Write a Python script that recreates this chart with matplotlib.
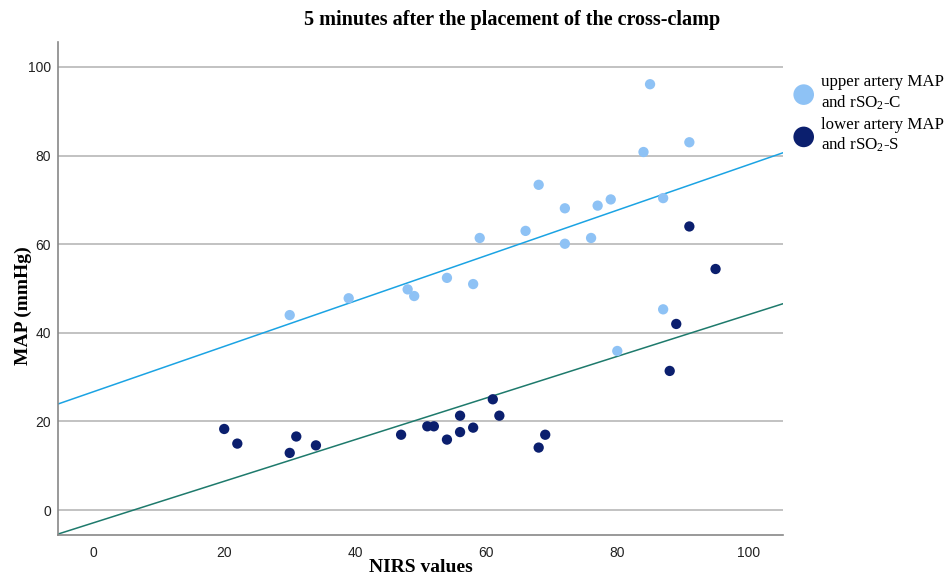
import matplotlib.pyplot as plt
import numpy as np

plt.rcParams['mathtext.fontset'] = 'custom'
plt.rcParams['mathtext.rm'] = 'Liberation Serif'
plt.rcParams['mathtext.default'] = 'rm'

upper_x = [30, 39, 48, 49, 54, 58, 59, 66, 68, 72, 72, 76, 77, 79, 80, 84, 85, 87, 87, 91]
upper_y = [44.0, 47.8, 49.8, 48.3, 52.4, 51.0, 61.4, 63.0, 73.4, 68.1, 60.1, 61.4, 68.7, 70.1,
           35.9, 80.8, 96.1, 70.4, 45.3, 83.0]
lower_x = [20, 22, 30, 31, 34, 47, 51, 52, 54, 56, 56, 58, 61, 62, 68, 69, 88, 89, 91, 95]
lower_y = [18.3, 15.0, 12.9, 16.6, 14.6, 17.0, 18.9, 18.9, 15.9, 21.3, 17.6, 18.6, 25.0, 21.3,
           14.1, 17.0, 31.4, 42.0, 64.0, 54.4]
ticks = [0, 20, 40, 60, 80, 100]

light = '#8ec2f5'
dark = '#0b1f6e'

fig = plt.figure(figsize=(9.53, 5.77), dpi=100)
ax = fig.add_axes([0.061, 0.073, 0.761, 0.854])
xlim = (-5.35, 105.35)
ax.set_xlim(xlim)
ax.set_ylim(-5.6, 105.6)

ax.set_yticks(ticks)
ax.set_xticks(ticks)
ax.yaxis.grid(True, color='#b8b8b8', lw=1.2)
ax.set_axisbelow(True)
for s in ['top', 'right']:
    ax.spines[s].set_visible(False)
for s in ['left', 'bottom']:
    ax.spines[s].set_color('#888888')
    ax.spines[s].set_linewidth(1.2)
ax.tick_params(length=0, labelsize=10, colors='#222222')
ax.tick_params(axis='y', pad=5)
ax.tick_params(axis='x', pad=8)
for lab in ax.get_xticklabels() + ax.get_yticklabels():
    lab.set_fontfamily('Liberation Sans')

# regression lines
xs = np.array(xlim)
bu = np.polyfit(upper_x, upper_y, 1)
bl = np.polyfit(lower_x, lower_y, 1)
ax.plot(xs, np.polyval(bu, xs), color='#1ba3e3', lw=1.1)
ax.plot(xs, np.polyval(bl, xs), color='#1e7a6c', lw=1.1)

ax.scatter(upper_x, upper_y, s=55, color=light, edgecolors='none', zorder=3,
           label='upper artery MAP\nand rSO$_2$-C')
ax.scatter(lower_x, lower_y, s=55, color=dark, edgecolors='none', zorder=3,
           label='lower artery MAP\nand rSO$_2$-S')

fig.text(512 / 953, 1 - 20 / 577, '5 minutes after the placement of the cross-clamp',
         family='Liberation Serif', weight='bold', size=14.5, ha='center', va='center')
ax.set_xlabel('NIRS values', fontfamily='Liberation Serif', fontweight='bold', fontsize=14)
ax.xaxis.set_label_coords(0.5, -0.048)
ax.set_ylabel('MAP (mmHg)', fontfamily='Liberation Serif', fontweight='bold', fontsize=14)
ax.yaxis.set_label_coords(-0.036, 0.466)

ax.legend(loc='upper left', bbox_to_anchor=(1.0, 0.955), frameon=False,
          prop={'family': 'Liberation Serif', 'size': 12.2}, markerscale=2.0,
          handletextpad=0.4, labelspacing=0.3, borderaxespad=0.2, handlelength=1.2)

fig.savefig('out.png', dpi=100)
